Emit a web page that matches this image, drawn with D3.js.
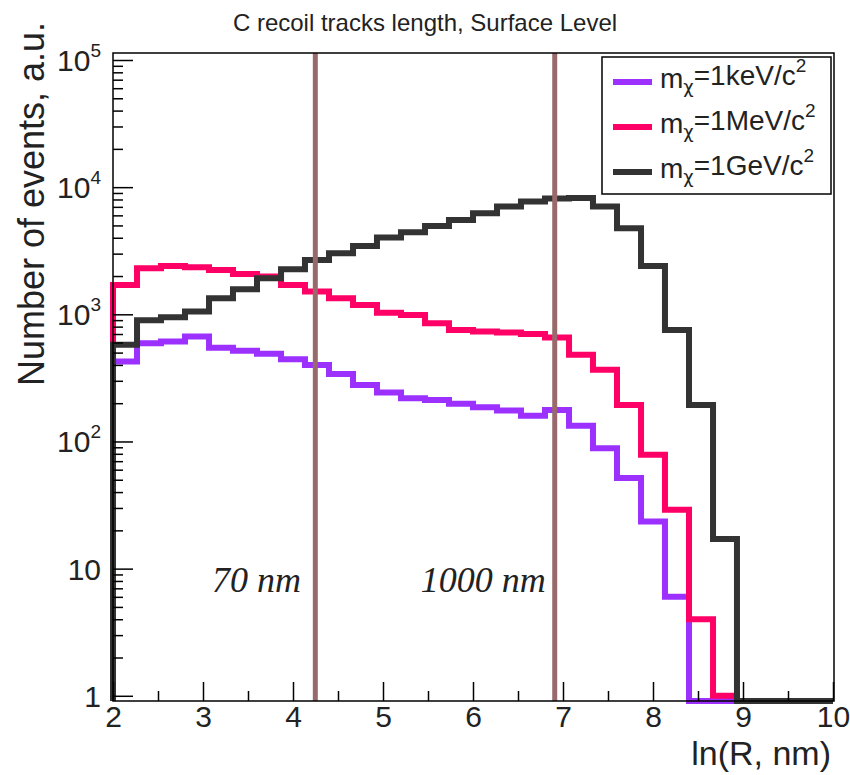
<!DOCTYPE html>
<html><head><meta charset="utf-8">
<script src="https://cdn.jsdelivr.net/npm/d3@7"></script>
<style>body{margin:0;background:#fff} svg{display:block}</style>
</head><body>
<svg id="chart" width="850" height="775"></svg>
<script>
// ---- data ----
const binEdges = [2.000,2.267,2.533,2.800,3.067,3.333,3.600,3.867,4.133,4.400,4.667,4.933,5.200,5.467,5.733,6.000,6.267,6.533,6.800,7.067,7.333,7.600,7.867,8.133,8.400,8.667,8.933,9.200,9.467,9.733,10.000];
const keV = [425,593,611,669,547,518,489,444,400,340,278,243,219,212,198,186,175,159,177,133,88.5,51.5,23.5,6.0,0,0,0,0,0,0];
const MeV = [1702,2303,2403,2345,2233,2078,1982,1702,1509,1337,1185,1031,989,851,754,731,720,701,656,480,366,194,78.5,29,4,1.0,0,0,0,0];
const GeV = [575,900,950,1050,1337,1575,1922,2263,2678,3022,3450,4010,4420,4950,5520,6240,7030,7700,8150,8200,7030,4750,2400,754,194,17.1,0,0,0,0];
const seriesMass = ["1keV","1MeV","1GeV"];
const seriesColors = ["#9b30ff","#ff0066","#333333"];
const cutValues = [4.248, 6.908];
const cutLabels = ["70 nm","1000 nm"];
const cutLabelX = [3.1, 5.42];
const cutLabelY = 6.6;
const xMajor = [2,3,4,5,6,7,8,9,10];
const xMinor = [2.5,3.5,4.5,5.5,6.5,7.5,8.5,9.5];
const yMajor = [1,10,100,1000,10000,100000];
const yLabelBase = ["1","10","10","10","10","10"];
const yLabelExp = ["","","2","3","4","5"];
const titleText = "C recoil tracks length, Surface Level";
const xTitle = "ln(R, nm)";
const yTitle = "Number of events, a.u.";

// ---- layout ----
const L = 113, R = 833, T = 53, B = 701;
const yMin = 0.91, yMax = 1.135e5;
const svg = d3.select("#chart");
const x = d3.scaleLinear().domain([2,10]).range([L,R]);
const y = d3.scaleLog().domain([yMin,yMax]).range([B,T]).clamp(true);
const yMinor = [];
yMajor.slice(0,-1).forEach(d => { for (let k=2;k<=9;k++) yMinor.push(d*k); });

const font = "'Liberation Sans', Arial, Helvetica, sans-serif";

// histograms
const series = [keV, MeV, GeV];
const line = d3.line().x(d => x(d[0])).y(d => y(d[1] > 0 ? d[1] : yMin));
series.forEach((vals, s) => {
  const pts = [[binEdges[0], 0]];
  vals.forEach((v,i) => { pts.push([binEdges[i], v]); pts.push([binEdges[i+1], v]); });
  pts.push([binEdges[binEdges.length-1], 0]);
  svg.append("path").attr("d", line(pts)).attr("fill","none")
    .attr("stroke", seriesColors[s]).attr("stroke-width", 6)
    .attr("stroke-linejoin","miter").attr("stroke-linecap","butt");
});

// cut lines
cutValues.forEach(c => {
  svg.append("line").attr("x1", x(c)).attr("x2", x(c)).attr("y1", T).attr("y2", B)
    .attr("stroke", "#986a6c").attr("stroke-width", 5);
});
cutLabels.forEach((t,i) => {
  svg.append("text").attr("x", x(cutLabelX[i])).attr("y", y(cutLabelY))
    .attr("font-family","'Liberation Serif', 'Times New Roman', serif")
    .attr("font-style","italic").attr("font-size", 36).attr("fill","#222").text(t);
});

// axes
const gx = svg.append("g").attr("transform", `translate(0,${B})`)
  .call(d3.axisBottom(x).tickValues(xMajor).tickSizeInner(-19).tickSizeOuter(0).tickPadding(4).tickFormat(d3.format("d")));
svg.append("g").attr("transform", `translate(0,${B})`)
  .call(d3.axisBottom(x).tickValues(xMinor).tickSizeInner(-10).tickSizeOuter(0).tickFormat(""));
const gy = svg.append("g").attr("transform", `translate(${L},0)`)
  .call(d3.axisLeft(y).tickValues(yMajor).tickSizeInner(-20).tickSizeOuter(0).tickPadding(12).tickFormat(""));
svg.append("g").attr("transform", `translate(${L},0)`)
  .call(d3.axisLeft(y).tickValues(yMinor).tickSizeInner(-10).tickSizeOuter(0).tickFormat(""));
svg.selectAll(".domain").attr("stroke","none");
svg.selectAll(".tick line").attr("stroke","#000").attr("stroke-width",1.5);
gx.selectAll(".tick text").attr("font-family", font).attr("font-size", 30).attr("fill","#222").attr("dy","0.72em");
// y labels with superscripts
gy.selectAll(".tick").each(function(d,i){
  const t = d3.select(this).append("text").attr("x",-12).attr("dy","0.35em")
    .attr("text-anchor","end").attr("font-family",font).attr("font-size",30).attr("fill","#222");
  t.append("tspan").text(yLabelBase[i]);
  if (yLabelExp[i]) t.append("tspan").attr("font-size",19).attr("dy","-0.75em").text(yLabelExp[i]);
});

// frame
svg.append("rect").attr("x",L).attr("y",T).attr("width",R-L+1).attr("height",B-T)
  .attr("fill","none").attr("stroke","#000").attr("stroke-width",1.5);

// legend
const lg = svg.append("g");
lg.append("rect").attr("x",602).attr("y",57).attr("width",229).attr("height",137)
  .attr("fill","#fff").attr("stroke","#000").attr("stroke-width",1.5);
seriesMass.forEach((m,i) => {
  const cy = 82 + i*45;
  lg.append("line").attr("x1",613).attr("x2",652).attr("y1",cy).attr("y2",cy)
    .attr("stroke",seriesColors[i]).attr("stroke-width",6);
  const t = lg.append("text").attr("x",660).attr("y",cy+6).attr("font-family",font)
    .attr("font-size",28).attr("fill","#222");
  t.append("tspan").text("m");
  t.append("tspan").attr("font-size",18).attr("dy","0.3em")
    .attr("font-family","'DejaVu Sans', sans-serif").text("χ");
  t.append("tspan").attr("dy","-0.3em").text("=" + m + "/c");
  t.append("tspan").attr("font-size",19).attr("dy","-0.7em").text("2");
});

// titles
svg.append("text").attr("x",425).attr("y",31).attr("text-anchor","middle")
  .attr("font-family",font).attr("font-size",24).attr("fill","#222").text(titleText);
svg.append("text").attr("x",831).attr("y",765).attr("text-anchor","end")
  .attr("font-family",font).attr("font-size",34).attr("fill","#222").text(xTitle);
svg.append("text").attr("transform","translate(44,204) rotate(-90)").attr("text-anchor","middle")
  .attr("font-family",font).attr("font-size",36).attr("fill","#222").text(yTitle);
</script>
</body></html>
